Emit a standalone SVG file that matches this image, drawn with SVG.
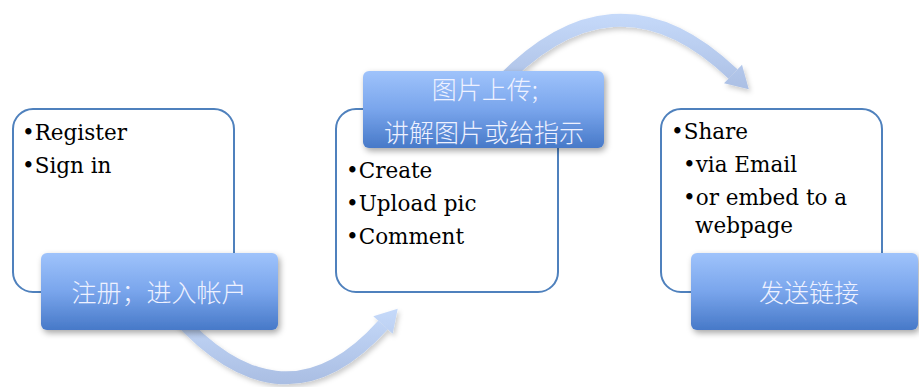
<svg xmlns="http://www.w3.org/2000/svg" width="919" height="387" viewBox="0 0 919 387">
<defs>
<linearGradient id="lbl" x1="0" y1="0" x2="0" y2="1">
<stop offset="0" stop-color="#9fc3fb"/>
<stop offset="0.5" stop-color="#79a5ec"/>
<stop offset="1" stop-color="#4779c8"/>
</linearGradient>
<linearGradient id="arr1" gradientUnits="userSpaceOnUse" x1="0" y1="305" x2="0" y2="386">
<stop offset="0" stop-color="#c7dbfb"/>
<stop offset="1" stop-color="#a9bde2"/>
</linearGradient>
<linearGradient id="arr2" gradientUnits="userSpaceOnUse" x1="0" y1="10" x2="0" y2="95">
<stop offset="0" stop-color="#c7dbfb"/>
<stop offset="1" stop-color="#a9bde2"/>
</linearGradient>
<filter id="sh" x="-10%" y="-20%" width="125%" height="150%">
<feDropShadow dx="2" dy="3" stdDeviation="3" flood-color="#000" flood-opacity="0.35"/>
</filter>
<filter id="ash" x="-10%" y="-20%" width="125%" height="150%">
<feDropShadow dx="2" dy="3" stdDeviation="2.5" flood-color="#000" flood-opacity="0.2"/>
</filter>
</defs>
<style>
.box{fill:#fff;stroke:#4f81bd;stroke-width:2}
.lbl{fill:url(#lbl);filter:url(#sh)}
.t{font-family:"DejaVu Serif","Liberation Serif",serif;font-size:21.5px;fill:#000}
.c{font-family:"Noto Sans CJK SC",sans-serif;font-size:25px;font-weight:300;fill:#eef1ff;text-anchor:middle;dominant-baseline:central}
</style>
<rect width="919" height="387" fill="#fff"/>
<g id="connectors">
<g filter="url(#ash)">
<path d="M163,300 Q278,442 383,325" fill="none" stroke="url(#arr1)" stroke-width="13"/>
<polygon points="397.7,308.7 392.7,333.7 373.3,316.3" fill="url(#arr1)"/>
</g>
<g filter="url(#ash)">
<path d="M492,92 Q612,-42 733,74" fill="none" stroke="url(#arr2)" stroke-width="13"/>
<polygon points="748.8,89.3 742,64.7 724,83.3" fill="url(#arr2)"/>
</g>
</g>
<g id="node1">
<rect class="box" x="13" y="109" width="221" height="183" rx="20"/>
<text class="t" x="22" y="140">•Register</text>
<text class="t" x="22" y="173">•Sign in</text>
<rect class="lbl" x="41" y="253" width="237" height="77" rx="6"/>
<text class="c" x="159" y="291">注册；进入帐户</text>
</g>
<g id="node2">
<rect class="box" x="336" y="109" width="222" height="183" rx="20"/>
<text class="t" x="346" y="178">•Create</text>
<text class="t" x="346" y="211">•Upload pic</text>
<text class="t" x="346" y="244">•Comment</text>
<rect class="lbl" x="363" y="71" width="241" height="77" rx="6"/>
<text class="c" x="485" y="88">图片上传;</text>
<text class="c" x="484" y="131">讲解图片或给指示</text>
</g>
<g id="node3">
<rect class="box" x="661" y="109" width="221" height="183" rx="20"/>
<text class="t" x="671" y="139">•Share</text>
<text class="t" x="683" y="172">•via Email</text>
<text class="t" x="683" y="205">•or embed to a</text>
<text class="t" x="695" y="233">webpage</text>
<rect class="lbl" x="691" y="253" width="227" height="77" rx="6"/>
<text class="c" x="809" y="291">发送链接</text>
</g>
</svg>
